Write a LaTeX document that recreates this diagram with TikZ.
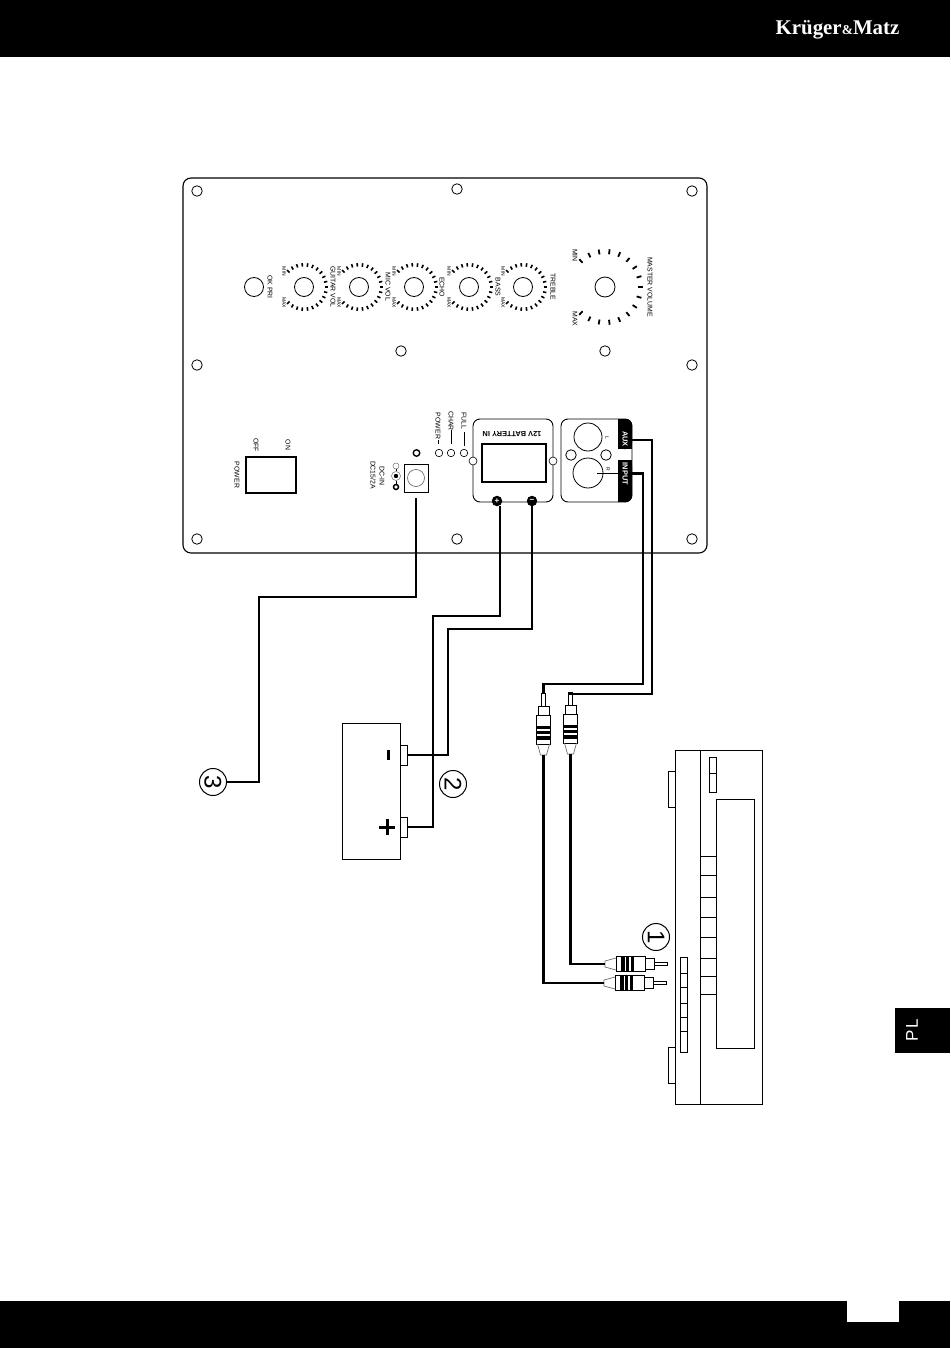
\documentclass[tikz,border=0pt]{standalone}
\usepackage{fontspec}
\setmainfont{Liberation Sans}
\newfontfamily\logofont{Liberation Serif}
\usetikzlibrary{positioning}
\definecolor{ringcolor}{RGB}{110,110,110}

% one rca plug, drawn tip up from (0,0)
\newcommand{\rcaplug}[1]{%
  \begin{scope}[#1]
    \draw [line width=.9pt, fill=white] (-1.7,0) rectangle (1.7,13);
    \draw [line width=.9pt, fill=white] (-5.5,13) rectangle (5.5,22);
    \draw [line width=.9pt, fill=white] (-7.2,22) rectangle (7.2,51);
    \fill (-7.2,33) rectangle (7.2,36);
    \fill (-7.2,38) rectangle (7.2,41);
    \fill (-7.2,42.5) rectangle (7.2,46.5);
    \draw [line width=.7pt, ringcolor] (-6,51) -- (-3,62) -- (3,62) -- (6,51);
  \end{scope}}

\begin{document}
\begin{tikzpicture}[x=1pt, y=-1pt]
\tikzset{
  hole/.style={draw, circle, inner sep=0, minimum size=10.5pt, line width=.8pt},
  knob/.style={draw, circle, inner sep=0, minimum size=19pt, line width=.8pt},
  lamp/.style={draw, circle, inner sep=0, minimum size=7.5pt, line width=.6pt},
  wire/.style={line width=2.2pt},
  thin line/.style={line width=.9pt},
  tick/.style={line width=1.6pt},
  lbl/.style={inner sep=0, font=\fontsize{6.9}{6.9}\selectfont, rotate=-90},
  tiny lbl/.style={lbl, font=\fontsize{5}{5}\selectfont},
  num/.style={draw, circle, inner sep=0, minimum size=27pt, line width=1pt, font=\fontsize{24}{24}\selectfont, rotate=-90},
  pin/.style={circle, fill=black, inner sep=0, minimum size=10.5pt, text=white, font=\bfseries\fontsize{8}{8}\selectfont},
  post/.style={draw, rectangle, inner sep=0, fill=white, minimum width=7pt, minimum height=20pt, line width=.8pt},
}
\useasboundingbox (0,0) rectangle (950,1348);

% page bars
\fill (0,0) rectangle (950,57);
\fill (0,1301) rectangle (950,1348);
\fill [white] (847,1301) rectangle (899,1322);
\fill (895,1008) rectangle (950,1053);
\node [text=white, inner sep=0, rotate=90, font=\fontsize{17}{17}\selectfont] (lang) at (912,1030) {P\kern1.5pt L};
\node [text=white, inner sep=0, font=\logofont\bfseries\fontsize{20.9}{20.9}\selectfont] (logo) at (837.5,30)
  {Krüger{\fontsize{13.5}{13.5}\selectfont\&}Matz};

% main panel
\draw [line width=1.1pt, rounded corners=8pt] (183,178) rectangle (707,553);
\node [hole] (h1) at (197,191) {};
\node [hole] (h2) at (457,189) {};
\node [hole] (h3) at (692,191) {};
\node [hole] (h4) at (197,365) {};
\node [hole] (h5) at (401,351) {};
\node [hole] (h6) at (605,351) {};
\node [hole] (h7) at (692,365) {};
\node [hole] (h8) at (197,539) {};
\node [hole] (h9) at (457,539) {};
\node [hole] (h10) at (692,539) {};

% knobs
\node [knob] (okpri) at (254,287) {};
\node [lbl] (okprilbl) at (270,287) {OK PRI};
\foreach \name/\px/\txt/\tx in {k1/304/GUITAR VOL/333, k2/359/MIC VOL/388, k3/414/ECHO/442, k4/469/BASS/498, k5/523/TREBLE/553} {
  \node [knob] (\name) at (\px,287) {};
  \node [lbl] at (\tx,287) {\txt};
  \node [tiny lbl] at ([xshift=-20pt,yshift=15.5pt]\name.center) {MIN};
  \node [tiny lbl] at ([xshift=-20pt,yshift=-15.5pt]\name.center) {MAX};
  \foreach \a in {-10,...,10}
    \draw [tick] ([shift={(\a*13.5:20.5)}]\name.center) -- ([shift={(\a*13.5:24)}]\name.center);
}
\node [knob, minimum size=20pt] (master) at (605,287) {};
\foreach \a in {-8,...,8}
  \draw [tick, line width=1.8pt] ([shift={(\a*16.6:33)}]master.center) -- ([shift={(\a*16.6:38)}]master.center);
\node [lbl] (mastermin) at (575,255.5) {MIN};
\node [lbl] (mastermax) at (575,319) {MAX};
\node [lbl] (masterlbl) at (650,287) {MASTER VOLUME};

% power switch
\node [draw, rectangle, inner sep=0, line width=1.5pt, minimum width=50pt, minimum height=36pt] (switch) at (271,475) {};
\node [lbl] at (288,445) {ON};
\node [lbl] at (256,445) {OFF};
\node [lbl] at (237,475) {POWER};

% dc input
\node [draw, rectangle, inner sep=0, line width=.9pt, minimum width=24pt, minimum height=28pt] (socket) at (416,478) {};
\node [draw=ringcolor, circle, inner sep=0, minimum size=17pt, line width=.7pt] (socketring) at (socket.center) {};
\node [draw, circle, inner sep=0, minimum size=6.5pt, line width=1.4pt] (socketled) at (416.5,453) {};
\node [lbl] at (382,476) {DC-IN};
\node [lbl] at (373,475) {DC15/2A};
\node [draw=ringcolor, circle, inner sep=0, minimum size=6pt, line width=.5pt] (dcneg) at (396,466) {};
\node [draw=ringcolor, circle, inner sep=0, minimum size=9pt, line width=.5pt] (dcmid) at (396,476) {};
\fill (dcmid) circle (2.2);
\node [draw, circle, inner sep=0, minimum size=5pt, line width=1.5pt] (dcpos) at (396,487) {};
\draw [line width=.8pt] (dcneg) -- (dcmid) -- (dcpos);

% lamps
\node [lamp] (power) at (439,453) {};
\node [lamp] (char) at (451,453) {};
\node [lamp] (full) at (464,453) {};
\node [lbl] (powerlbl) at (438,426) {POWER};
\node [lbl] (charlbl) at (451,421) {CHAR};
\node [lbl] (fulllbl) at (464,420.5) {FULL};
\draw [line width=.8pt] (438,440) -- (438,444);
\draw [line width=.8pt] (451,430) -- (451,444);
\draw [line width=.8pt] (464,432) -- (464,446);

% battery panel
\draw [line width=.9pt, rounded corners=7pt] (473,419) rectangle (553,502);
\node [lamp, fill=white, minimum size=8pt] (batl) at (473,461) {};
\node [lamp, fill=white, minimum size=8pt] (batr) at (553,461) {};
\draw [line width=1.3pt] (482,444) rectangle (546,482);
\node [inner sep=0, rotate=180, font=\bfseries\fontsize{7.4}{7.4}\selectfont] (batlbl) at (512,434) {12V BATTERY IN};
\node [pin] (batpos) at (497,501) {+};
\node [pin] (batneg) at (532,501) {−};

% aux panel
\draw [line width=.9pt, rounded corners=7pt] (561,419) rectangle (632,502);
\fill [rounded corners=6pt] (618,419) -- (632,419) -- (632,449) -- (618,449) -- cycle;
\fill (618,419) rectangle (625,449);
\fill (618,442) rectangle (632,449);
\fill [rounded corners=6pt] (618,460) -- (632,460) -- (632,502) -- (618,502) -- cycle;
\fill (618,460) rectangle (625,502);
\fill (618,460) rectangle (632,470);
\node [draw, circle, inner sep=0, minimum size=28pt, line width=.8pt] (auxl) at (588,437) {};
\node [draw, circle, inner sep=0, minimum size=30pt, line width=.8pt] (auxr) at (588,473) {};
\node [hole] (auxa) at (571,455) {};
\node [hole] (auxb) at (606,455) {};
\node [tiny lbl] at (607,438) {L};
\node [tiny lbl] at (608,469) {R};
\node [lbl, text=white, font=\bfseries\fontsize{7.4}{7.4}\selectfont] (auxlbl) at (625,439) {AUX};
\node [lbl, text=white, font=\bfseries\fontsize{7.4}{7.4}\selectfont] (inputlbl) at (625,474) {INPUT};

% battery
\draw [line width=.9pt] (342,723) rectangle (400,859);
\node [post] (negpost) at (403.5,755) {};
\node [post] (pospost) at (403.5,827) {};
\fill (386.5,750) rectangle (390,760);
\fill (379,825.5) rectangle (395,828.5);
\fill (385.5,819) rectangle (388.5,835);

% player
\draw [thin line] (668,771) rectangle (675,807);
\draw [thin line] (668,1047) rectangle (675,1083);
\draw [thin line] (675,750) rectangle (762,1104);
\draw [thin line] (700,750) -- (700,1104);
\draw [thin line] (709,757) rectangle (716,792);
\draw [thin line] (709,773) -- (716,773);
\draw [thin line] (716,799) rectangle (754,1048);
\foreach \py in {856,875,897,917,937,958,976,994}
  \draw [thin line] (700,\py) -- (716,\py);
\draw [thin line] (680,957) rectangle (687,1052);
\foreach \py in {973,987,1003,1017,1031}
  \draw [thin line] (680,\py) -- (687,\py);

% plugs
\rcaplug{shift={(543.5,693)}}
\rcaplug{shift={(570.5,692)}}
\rcaplug{shift={(667,964)}, rotate=-90}
\rcaplug{shift={(666,983)}, rotate=-90}
\coordinate (plug1top) at (543.5,693);
\coordinate (plug2top) at (570.5,693);
\coordinate (plug1end) at (543.5,755);
\coordinate (plug2end) at (570.5,754);
\coordinate (jack1) at (604,983);
\coordinate (jack2) at (605,964);

% numbers
\node [num] (n1) at (656,937) {1};
\node [num] (n2) at (453,784) {2};
\node [num] (n3) at (213,782) {3};

% connect
\coordinate (dc1) at (259,597);
\coordinate (neg1) at (448,629);
\coordinate (pos1) at (433,616);
\coordinate (auxbend) at (652,694);
\coordinate (inputbend) at (643,684);
\draw [wire] (socket.south |- 0,498) |- (dc1) |- (n3.north);
\draw [wire] ([xshift=3pt]batpos.south) |- (pos1) |- (pospost.east);
\draw [wire] (batneg.south) |- (neg1) |- (negpost.east);
\draw [wire] (632,440) -| (auxbend) -| (plug2top);
\draw [line width=1.4pt] (597,473.5) -- (618,473.5);
\draw [wire] (632,473.5) -| (inputbend) -| (plug1top);
\draw [wire] (plug1end) |- (jack1);
\draw [wire] (plug2end) |- (jack2);

\end{tikzpicture}
\end{document}
